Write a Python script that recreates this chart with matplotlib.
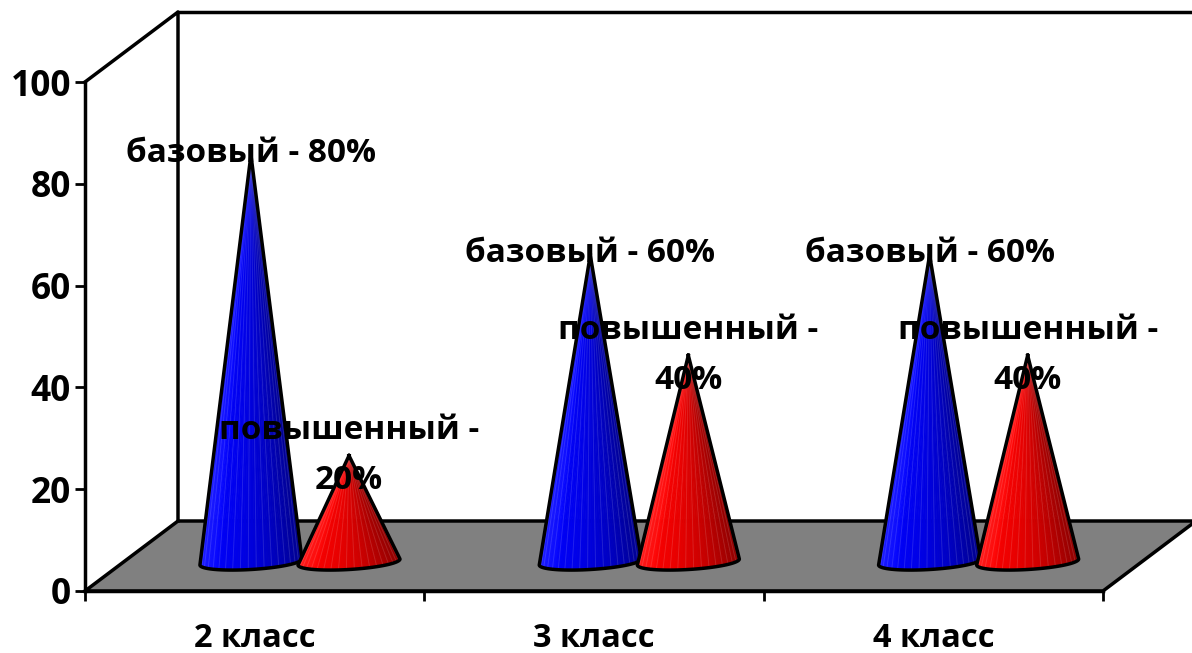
import numpy as np
import matplotlib
matplotlib.use('Agg')
import matplotlib.pyplot as plt
from matplotlib.patches import Polygon

classes = ['2 класс', '3 класс', '4 класс']
base_level = [80, 60, 60]
high_level = [20, 40, 40]
name_base = 'базовый'
name_high = 'повышенный'
y_ticks = [0, 20, 40, 60, 80, 100]

plt.rcParams['font.family'] = ['Open Sans', 'DejaVu Sans']
plt.rcParams['font.weight'] = 'bold'

W, H = 1192, 653
fig = plt.figure(figsize=(W / 100, H / 100), dpi=100)
ax = fig.add_axes([85 / W, 1 - 591 / H, (1103 - 85) / W, (591 - 82) / H])
ax.set_xlim(0, 3)
ax.set_ylim(0, 100)

# size of one data unit in pixels, used for the fake 3d depth
px_x = (1103 - 85) / 3
px_y = (591 - 82) / 100
depth_x = 93 / px_x
depth_y = 70 / px_y
lw = 2.5

# floor and back wall
floor = Polygon([(0, 0), (3, 0), (3 + depth_x, depth_y), (depth_x, depth_y)],
                closed=True, facecolor='#808080', edgecolor='black', lw=lw,
                clip_on=False, zorder=1, joinstyle='miter')
ax.add_patch(floor)
ax.plot([0, depth_x, depth_x], [100, 100 + depth_y, depth_y], color='black', lw=lw, clip_on=False, zorder=1)
ax.plot([depth_x, 3 + depth_x], [100 + depth_y, 100 + depth_y], color='black', lw=lw, clip_on=False, zorder=1)


def shade(t, rgb):
    # t goes 0 (left edge) to 1 (right edge)
    k = 0.98 - 0.42 * t ** 1.8
    extra = max(0.0, 0.12 - 0.6 * t)
    return tuple(min(1.0, c * k + extra) for c in rgb)


def cone(xc, value, rgb, z):
    half_w = 51 / px_x
    ry = 7.5 / px_y
    tilt = 3.0 / px_y
    y0 = 29 / px_y
    top = 6.9 + value * 0.985
    ang = np.linspace(np.pi, 2 * np.pi, 61)
    bx = xc + half_w * np.cos(ang)
    by = y0 + ry * np.sin(ang) + tilt * np.cos(ang)
    for i in range(len(ang) - 1):
        t = (bx[i] - bx[0]) / (bx[-1] - bx[0])
        col = shade(t, rgb)
        ax.add_patch(Polygon([(xc, top), (bx[i], by[i]), (bx[i + 1], by[i + 1])],
                             closed=True, facecolor=col, edgecolor=col,
                             lw=0.6, clip_on=False, zorder=z))
    # light streaks running down from the tip
    for i in range(2, len(ang) - 1, 3):
        ax.plot([xc, bx[i]], [top, by[i]], color='white', alpha=0.13, lw=0.7,
                clip_on=False, zorder=z + 0.2)
    outline_x = np.r_[xc, bx, xc]
    outline_y = np.r_[top, by, top]
    ax.plot(outline_x, outline_y, color='black', lw=lw, clip_on=False, zorder=z + 0.5,
            solid_joinstyle='round')
    return top


for i in range(len(classes)):
    x_blue = i + 0.489
    x_red = i + 0.778
    top_b = cone(x_blue, base_level[i], (0, 0, 1), 2)
    top_r = cone(x_red, high_level[i], (1, 0, 0), 3)
    ax.text(x_blue, top_b + 0.35, f'{name_base} - {base_level[i]}%', ha='center', va='center',
            fontsize=24, fontweight='bold', zorder=6, clip_on=False)
    ax.text(x_red, top_r, f'{name_high} -\n{high_level[i]}%', ha='center', va='center',
            fontsize=24, fontweight='bold', zorder=6, clip_on=False, linespacing=1.68)

ax.spines['top'].set_visible(False)
ax.spines['right'].set_visible(False)
ax.spines['left'].set_linewidth(lw)
ax.spines['bottom'].set_linewidth(lw)
ax.spines['left'].set_zorder(1.5)
ax.spines['bottom'].set_zorder(1.5)
ax.patch.set_visible(False)

ax.set_yticks(y_ticks)
ax.tick_params(axis='y', length=7, width=2, labelsize=25.5, pad=3)
ax.set_xticks([0, 1, 2, 3])
ax.set_xticklabels([])
ax.tick_params(axis='x', which='major', length=7, width=2)
ax.set_xticks([i + 0.5 for i in range(len(classes))], minor=True)
ax.set_xticklabels(classes, minor=True, fontsize=23.5, fontweight='bold')
ax.tick_params(axis='x', which='minor', length=0, pad=22)

fig.savefig('out.png', dpi=100)
